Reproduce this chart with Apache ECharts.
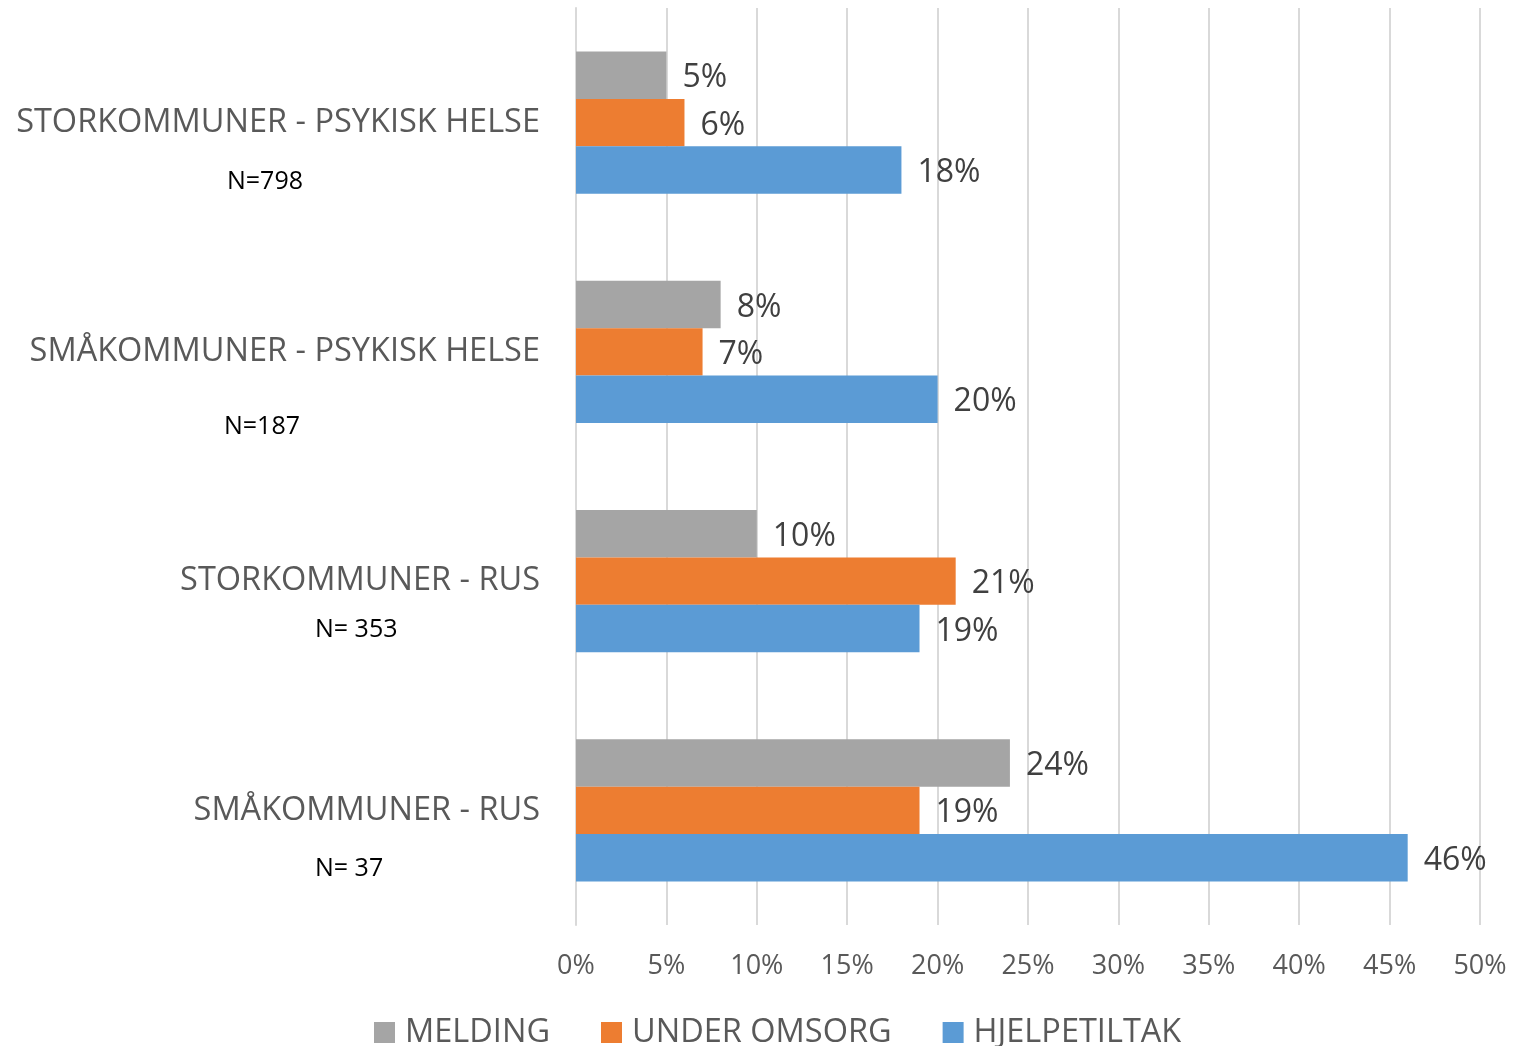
<!DOCTYPE html>
<html>
<head>
<meta charset="utf-8">
<script src="https://cdn.jsdelivr.net/npm/echarts@6/dist/echarts.min.js"></script>
<style>
html,body{margin:0;padding:0;background:#fff;}
#chart{width:1522px;height:1046px;}
</style>
</head>
<body>
<div id="chart"></div>
<script>
const categories = ['STORKOMMUNER - PSYKISK HELSE', 'SMÅKOMMUNER - PSYKISK HELSE', 'STORKOMMUNER - RUS', 'SMÅKOMMUNER - RUS'];
const nLabels = ['N=798', 'N=187', 'N= 353', 'N= 37'];
const melding = [5, 8, 10, 24];
const underOmsorg = [6, 7, 21, 19];
const hjelpetiltak = [18, 20, 19, 46];
const seriesNames = ['MELDING', 'UNDER OMSORG', 'HJELPETILTAK'];
const tickMax = 50;
const tickStep = 5;

const FONT = 'Open Sans';
const chart = echarts.init(document.getElementById('chart'));

const nPos = [[227, 182], [224, 427], [315, 630], [315, 869]];

function mkSeries(name, data, color) {
  return {
    name: name, type: 'bar', data: data,
    barGap: '0%', barCategoryGap: '38%',
    itemStyle: { color: color },
    label: {
      show: true, position: 'right', distance: 16, offset: [0, 3],
      formatter: p => p.value + '%',
      fontFamily: FONT, fontSize: 32, color: '#404040'
    }
  };
}

chart.setOption({
  animation: false,
  textStyle: { fontFamily: FONT },
  grid: { left: 576, right: 42, top: 8, bottom: 121, containLabel: false },
  legend: {
    bottom: -8, left: 369,
    icon: 'rect', itemWidth: 21, itemHeight: 21, itemGap: 51,
    textStyle: { fontFamily: FONT, fontSize: 32.5, color: '#595959', padding: [0, 0, 0, 5] },
    data: seriesNames
  },
  xAxis: {
    type: 'value', min: 0, max: tickMax, interval: tickStep,
    axisLine: { show: false }, axisTick: { show: false },
    splitLine: { show: true, lineStyle: { color: '#d9d9d9', width: 2 } },
    axisLabel: { formatter: v => v + '%', fontFamily: FONT, fontSize: 27, color: '#595959', margin: 28 }
  },
  yAxis: {
    type: 'category', data: categories, inverse: true,
    axisLine: { show: true, lineStyle: { color: '#d9d9d9', width: 2 } },
    axisTick: { show: false },
    axisLabel: { fontFamily: FONT, fontSize: 32.5, color: '#595959', margin: 36, padding: [4, 0, 0, 0] }
  },
  graphic: nLabels.map((t, i) => ({
    type: 'text', x: nPos[i][0], y: nPos[i][1],
    style: { text: t, fontFamily: FONT, fontSize: 25, fill: '#000', verticalAlign: 'middle', align: 'left' }
  })),
  series: [
    mkSeries(seriesNames[0], melding, '#A5A5A5'),
    mkSeries(seriesNames[1], underOmsorg, '#ED7D31'),
    mkSeries(seriesNames[2], hjelpetiltak, '#5B9BD5')
  ]
});
</script>
</body>
</html>
